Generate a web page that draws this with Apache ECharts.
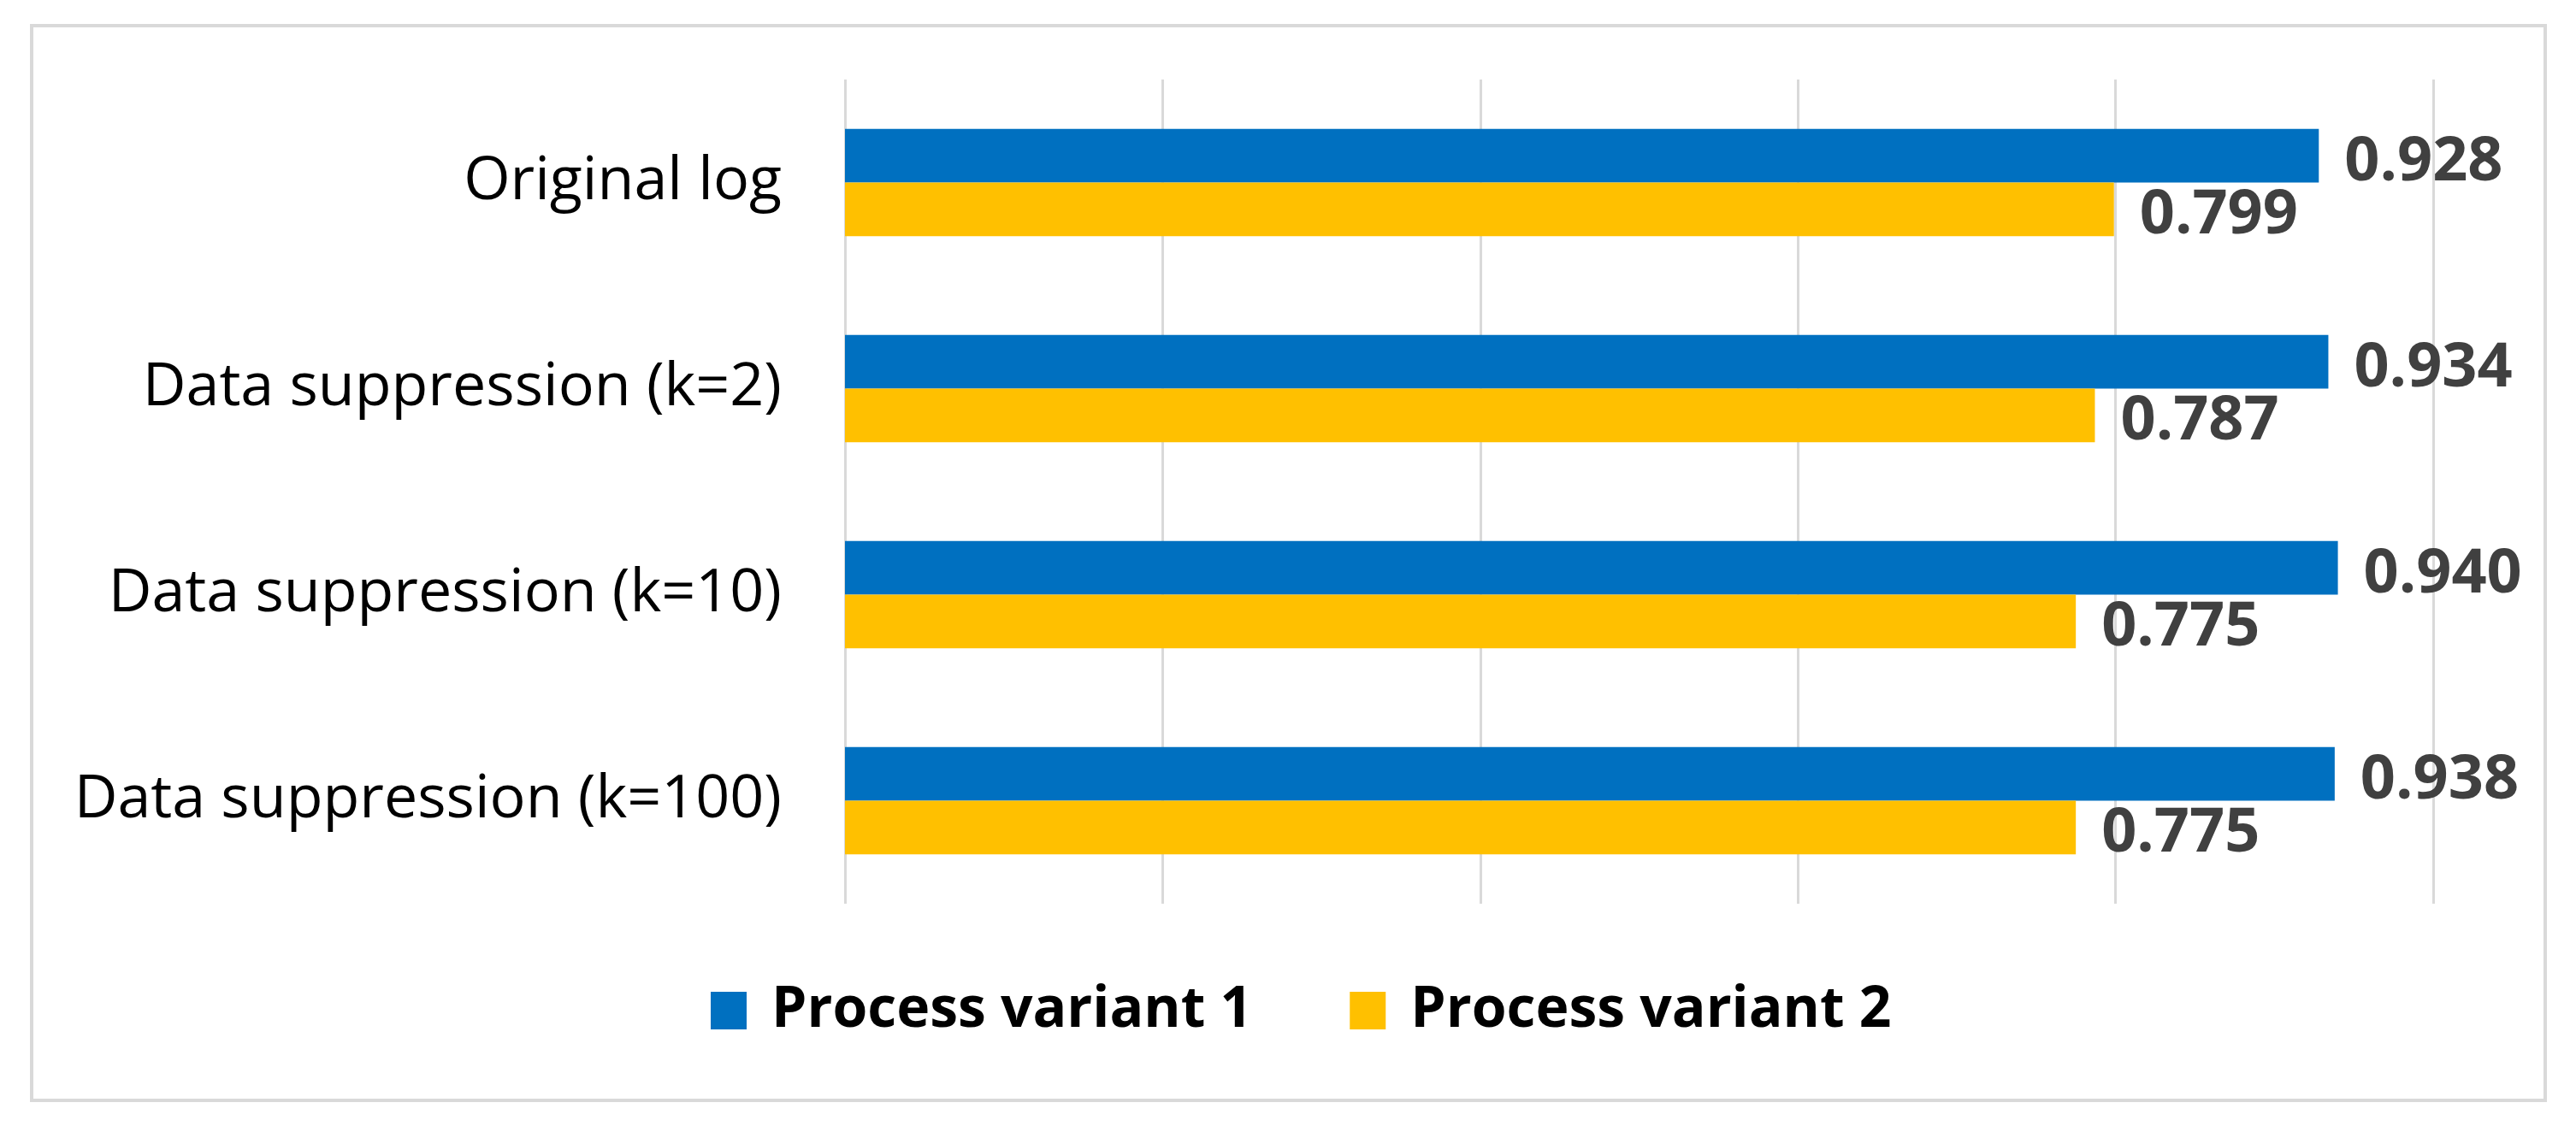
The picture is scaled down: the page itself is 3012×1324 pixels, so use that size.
<!DOCTYPE html>
<html>
<head>
<meta charset="utf-8">
<script src="https://cdn.jsdelivr.net/npm/echarts@6/dist/echarts.min.js"></script>
<style>
html,body{margin:0;padding:0;background:#fff;}
#chart{width:3012px;height:1324px;}
</style>
</head>
<body>
<div id="chart"></div>
<script>
const categories = ['Original log', 'Data suppression (k=2)', 'Data suppression (k=10)', 'Data suppression (k=100)'];
const seriesNames = ['Process variant 1', 'Process variant 2'];
const variant1 = [0.928, 0.934, 0.940, 0.938];
const variant2 = [0.799, 0.787, 0.775, 0.775];

const chart = echarts.init(document.getElementById('chart'), null, {renderer: 'canvas'});
const labelStyle = {
  show: true,
  position: 'right',
  distance: 30,
  offset: [0, 8],
  fontFamily: 'Open Sans',
  fontWeight: 'bold',
  fontSize: 72,
  color: '#404040',
  formatter: p => p.value.toFixed(3)
};
chart.setOption({
  animation: false,
  backgroundColor: '#ffffff',
  graphic: [{
    type: 'rect',
    shape: {x: 37, y: 30, width: 2939, height: 1257},
    style: {fill: 'none', stroke: '#d9d9d9', lineWidth: 4},
    silent: true
  }],
  grid: {left: 988, right: 167, top: 93, bottom: 267, containLabel: false},
  legend: {
    left: 826,
    top: 1144,
    itemWidth: 42,
    itemHeight: 44,
    itemGap: 114,
    icon: 'rect',
    textStyle: {fontFamily: 'Open Sans', fontWeight: 'bold', fontSize: 66, color: '#000', padding: [0, 0, 0, 24]},
    data: seriesNames
  },
  xAxis: {
    type: 'value',
    min: 0,
    max: 1,
    interval: 0.2,
    axisLabel: {show: false},
    axisLine: {show: false},
    axisTick: {show: false},
    splitLine: {show: true, lineStyle: {color: '#d9d9d9', width: 3}}
  },
  yAxis: {
    type: 'category',
    inverse: true,
    data: categories,
    axisLine: {show: false},
    axisTick: {show: false},
    axisLabel: {fontFamily: 'Open Sans', fontSize: 70, color: '#000', margin: 74}
  },
  series: [
    {name: seriesNames[0], type: 'bar', data: variant1, itemStyle: {color: '#0070C0'}, barGap: '0%', barCategoryGap: '48%', label: labelStyle},
    {name: seriesNames[1], type: 'bar', data: variant2, itemStyle: {color: '#FFC000'}, barGap: '0%', barCategoryGap: '48%', label: labelStyle}
  ]
});
</script>
</body>
</html>
